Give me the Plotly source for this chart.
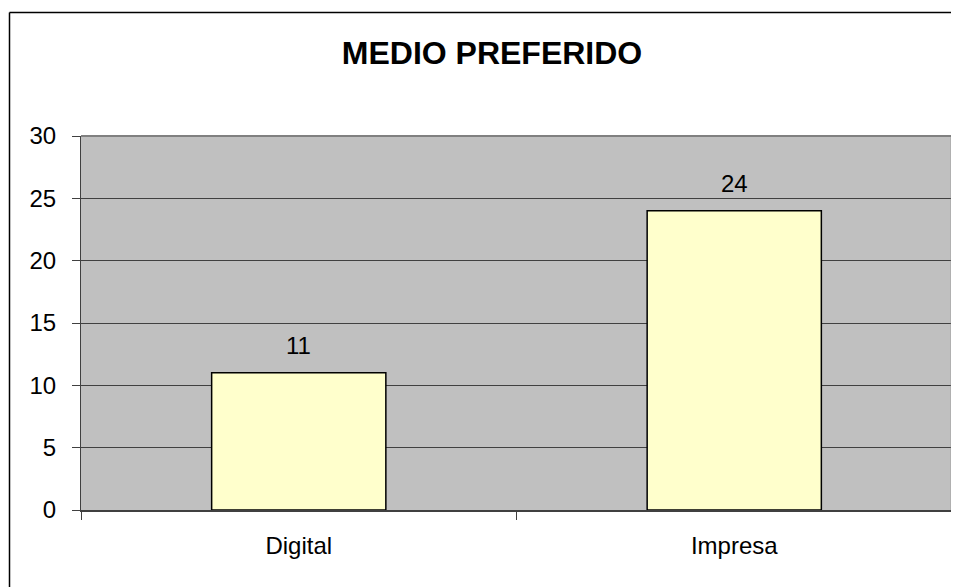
import plotly.graph_objects as go

categories = ["Digital", "Impresa"]
values = [11, 24]
y_ticks = [0, 5, 10, 15, 20, 25, 30]

# page body has an 8px margin; figure coordinates are screen minus 8
OFF = 8
W, H = 959 - OFF, 587 - OFF
ml, mr, mt, mb = 81 - OFF, 7, 136 - OFF, 77
pw = W - ml - mr
ph = H - mt - mb

FONT = "Liberation Sans, Arial"

fig = go.Figure()
fig.add_trace(go.Bar(
    x=categories, y=values,
    width=0.4,
    marker=dict(color="#FFFFCC", line=dict(color="#000000", width=1.5)),
    hoverinfo="x+y",
))

for c, v in zip(categories, values):
    fig.add_annotation(x=c, y=v, text=str(v), showarrow=False,
                       xref="x", yref="y", yanchor="middle", yshift=27,
                       font=dict(family=FONT, size=24, color="#000000"))

def px_x(p):
    return (p - OFF - ml) / pw

def px_y(p):
    return (H - mb - (p - OFF)) / ph

# outer chart border (left and top visible)
fig.add_shape(type="line", xref="paper", yref="paper",
              x0=px_x(9.5), x1=px_x(965), y0=px_y(12.5), y1=px_y(12.5),
              line=dict(color="#000000", width=1.5))
fig.add_shape(type="line", xref="paper", yref="paper",
              x0=px_x(9.5), x1=px_x(9.5), y0=px_y(12.5), y1=px_y(595),
              line=dict(color="#000000", width=1.5))
# plot area gray border (top and right)
fig.add_shape(type="line", xref="paper", yref="paper",
              x0=0, x1=1, y0=1, y1=1, line=dict(color="#808080", width=2))
fig.add_shape(type="line", xref="paper", yref="paper",
              x0=1, x1=1, y0=0, y1=1, line=dict(color="#808080", width=2.5))

fig.update_layout(
    width=W, height=H,
    margin=dict(l=ml, r=mr, t=mt, b=mb),
    paper_bgcolor="#FFFFFF",
    plot_bgcolor="#C0C0C0",
    showlegend=False,
    title=dict(text="<b>MEDIO PREFERIDO</b>", x=(492 - OFF) / W, xanchor="center",
               y=1 - (53 - OFF) / H, yanchor="middle",
               font=dict(family=FONT, size=32, color="#000000")),
    font=dict(family=FONT, size=24, color="#000000"),
)
fig.update_xaxes(
    type="category", range=[-0.5, 1.5],
    showline=True, linecolor="#404040", linewidth=1.5,
    ticks="outside", tickson="boundaries", ticklen=8, tickcolor="#404040", tickwidth=1,
    showgrid=False, ticklabelstandoff=13,
    tickfont=dict(family=FONT, size=24, color="#000000"),
)
fig.update_yaxes(
    range=[0, 30], tickvals=y_ticks,
    showline=True, linecolor="#404040", linewidth=1,
    ticks="outside", ticklen=8, tickcolor="#404040", tickwidth=1,
    showgrid=True, gridcolor="#404040", gridwidth=1,
    zeroline=False, ticklabelstandoff=11,
    tickfont=dict(family=FONT, size=24, color="#000000"),
)

fig.write_html("out.html")
